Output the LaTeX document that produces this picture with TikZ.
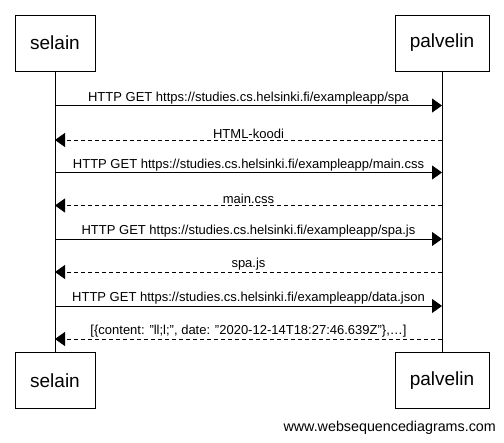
\documentclass[tikz,border=0pt]{standalone}
\usepackage{fontspec}
\setmainfont{Liberation Sans}
\usetikzlibrary{arrows.meta}

\tikzset{
  actor/.style={draw, line width=0.8pt, minimum width=80pt, minimum height=56pt, font=\fontsize{19}{21}\selectfont, inner sep=0pt},
  msg/.style={-{Triangle[length=10pt,width=14pt]}, line width=0.8pt},
  reply/.style={msg, dash pattern=on 4pt off 3pt},
  lbl/.style={font=\fontsize{13}{15}\selectfont, above=0pt, inner sep=1pt}
}

\begin{document}
\begin{tikzpicture}[x=1pt,y=-1pt]
\useasboundingbox (0,0) rectangle (504,443);
% actors
\node[actor] (sel) at (55,43) {selain};
\node[actor, minimum width=94pt] (pal) at (442,43) {palvelin};
\node[actor] (selb) at (55,380.5) {selain};
\node[actor, minimum width=94pt] (palb) at (442,380.5) {palvelin};
% lifelines
\draw[line width=0.8pt] (sel) -- (selb);
\draw[line width=0.8pt] (pal) -- (palb);
% messages
\coordinate (s1) at (55,105.5); \coordinate (p1) at (442,105.5);
\coordinate (s2) at (55,140); \coordinate (p2) at (442,140);
\coordinate (s3) at (55,172.5); \coordinate (p3) at (442,172.5);
\coordinate (s4) at (55,205.5); \coordinate (p4) at (442,205.5);
\coordinate (s5) at (55,239); \coordinate (p5) at (442,239);
\coordinate (s6) at (55,272); \coordinate (p6) at (442,272);
\coordinate (s7) at (55,306); \coordinate (p7) at (442,306);
\coordinate (s8) at (55,339); \coordinate (p8) at (442,339);
\draw[msg] (s1) -- node[lbl]{HTTP GET https://studies.cs.helsinki.fi/exampleapp/spa} (p1);
\draw[reply] (p2) -- node[lbl]{HTML-koodi} (s2);
\draw[msg] (s3) -- node[lbl]{HTTP GET https://studies.cs.helsinki.fi/exampleapp/main.css} (p3);
\draw[reply] (p4) -- node[lbl]{main.css} (s4);
\draw[msg] (s5) -- node[lbl]{HTTP GET https://studies.cs.helsinki.fi/exampleapp/spa.js} (p5);
\draw[reply] (p6) -- node[lbl]{spa.js} (s6);
\draw[msg] (s7) -- node[lbl]{HTTP GET https://studies.cs.helsinki.fi/exampleapp/data.json} (p7);
\draw[reply] (p8) -- node[lbl]{[\{content: "ll;l;", date: "2020-12-14T18:27:46.639Z"\},\ldots]} (s8);
% footer
\node[anchor=east, font=\fontsize{14.3}{16}\selectfont, inner sep=0pt] (credit) at (496,428) {www.websequencediagrams.com};
\end{tikzpicture}
\end{document}
